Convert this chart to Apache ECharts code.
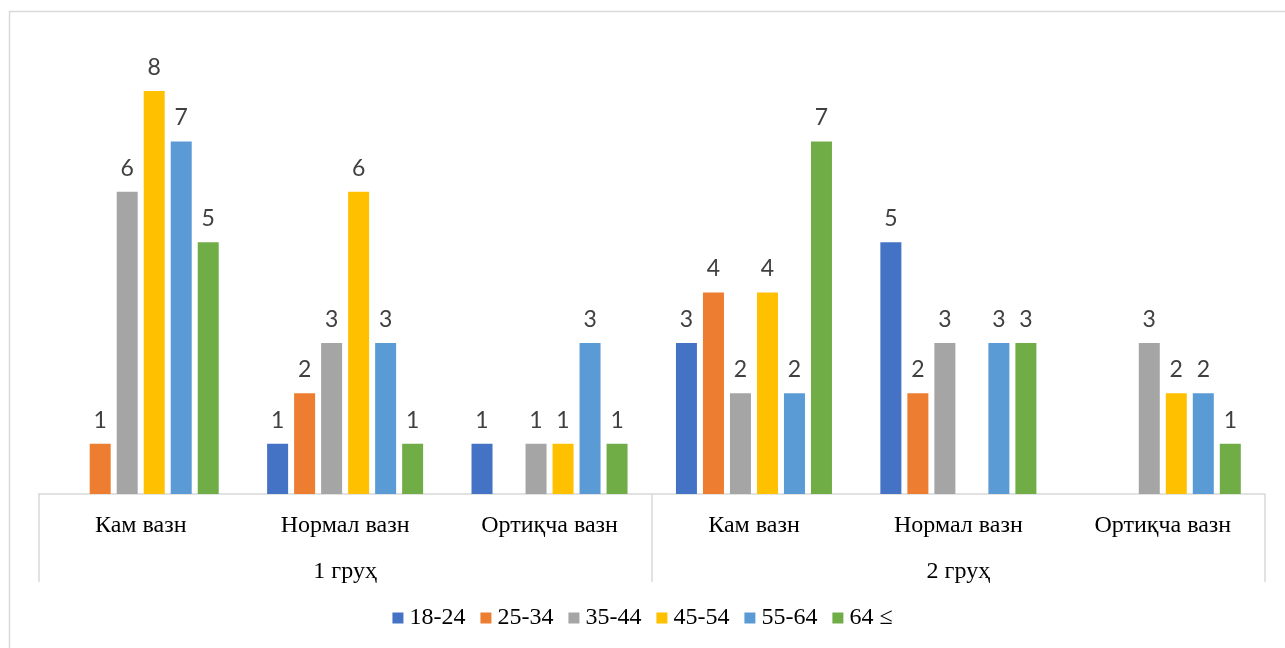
<!DOCTYPE html>
<html>
<head>
<meta charset="utf-8">
<script src="https://cdn.jsdelivr.net/npm/echarts@6/dist/echarts.min.js"></script>
<style>html,body{margin:0;padding:0;background:#fff;}#c{width:1285px;height:648px;}</style>
</head>
<body>
<div id="c"></div>
<script>
const categories = ['Кам вазн', 'Нормал вазн', 'Ортиқча вазн', 'Кам вазн', 'Нормал вазн', 'Ортиқча вазн'];
const groups = ['1 груҳ', '2 груҳ'];
const seriesNames = ['18-24', '25-34', '35-44', '45-54', '55-64', '64 ≤'];
const s18_24 = [null, 1, 1, 3, 5, null];
const s25_34 = [1, 2, null, 4, 2, null];
const s35_44 = [6, 3, 1, 2, 3, 3];
const s45_54 = [8, 6, 1, 4, null, 2];
const s55_64 = [7, 3, 3, 2, 3, 2];
const s64up = [5, 1, 1, 7, 3, 1];
const colors = ['#4472C4', '#ED7D31', '#A5A5A5', '#FFC000', '#5B9BD5', '#70AD47'];

const allData = [s18_24, s25_34, s35_44, s45_54, s55_64, s64up];
const chart = echarts.init(document.getElementById('c'));
const serif = '"Liberation Serif", "Times New Roman", serif';
const option = {
  animation: false,
  backgroundColor: '#fff',
  color: colors,
  graphic: [{
    type: 'rect', silent: true, z: -1,
    shape: { x: 9.5, y: 11.5, width: 1300, height: 700 },
    style: { fill: 'none', stroke: '#d9d9d9', lineWidth: 1.5 }
  }],
  legend: {
    bottom: 13, left: 'center',
    itemWidth: 11, itemHeight: 11, itemGap: 15,
    icon: 'rect',
    textStyle: { fontFamily: serif, fontSize: 24, color: '#000', padding: [0, 0, 0, 1] },
    data: seriesNames
  },
  grid: { left: 38.5, right: 20, top: 91, bottom: 154, containLabel: false },
  xAxis: [{
    type: 'category', data: categories, position: 'bottom',
    axisLine: { show: true, lineStyle: { color: '#d9d9d9', width: 1.5 } },
    axisTick: { show: false },
    axisLabel: { margin: 20, fontFamily: serif, fontSize: 24, color: '#000', interval: 0 }
  }, {
    type: 'category', data: groups, position: 'bottom',
    axisLine: { show: false },
    axisTick: { show: true, length: 88, lineStyle: { color: '#d9d9d9', width: 1.5 } },
    axisLabel: { margin: 66, fontFamily: serif, fontSize: 24, color: '#000' }
  }],
  yAxis: { type: 'value', min: 0, max: 8, show: false, splitLine: { show: false } },
  series: seriesNames.map((n, i) => ({
    name: n, type: 'bar', xAxisIndex: 0, data: allData[i],
    barWidth: 21, barGap: '28.6%',
    label: { show: true, position: 'top', distance: 12, fontFamily: 'Lato, "Open Sans", sans-serif', fontSize: 23, color: '#404040' }
  }))
};
chart.setOption(option);
</script>
</body>
</html>
